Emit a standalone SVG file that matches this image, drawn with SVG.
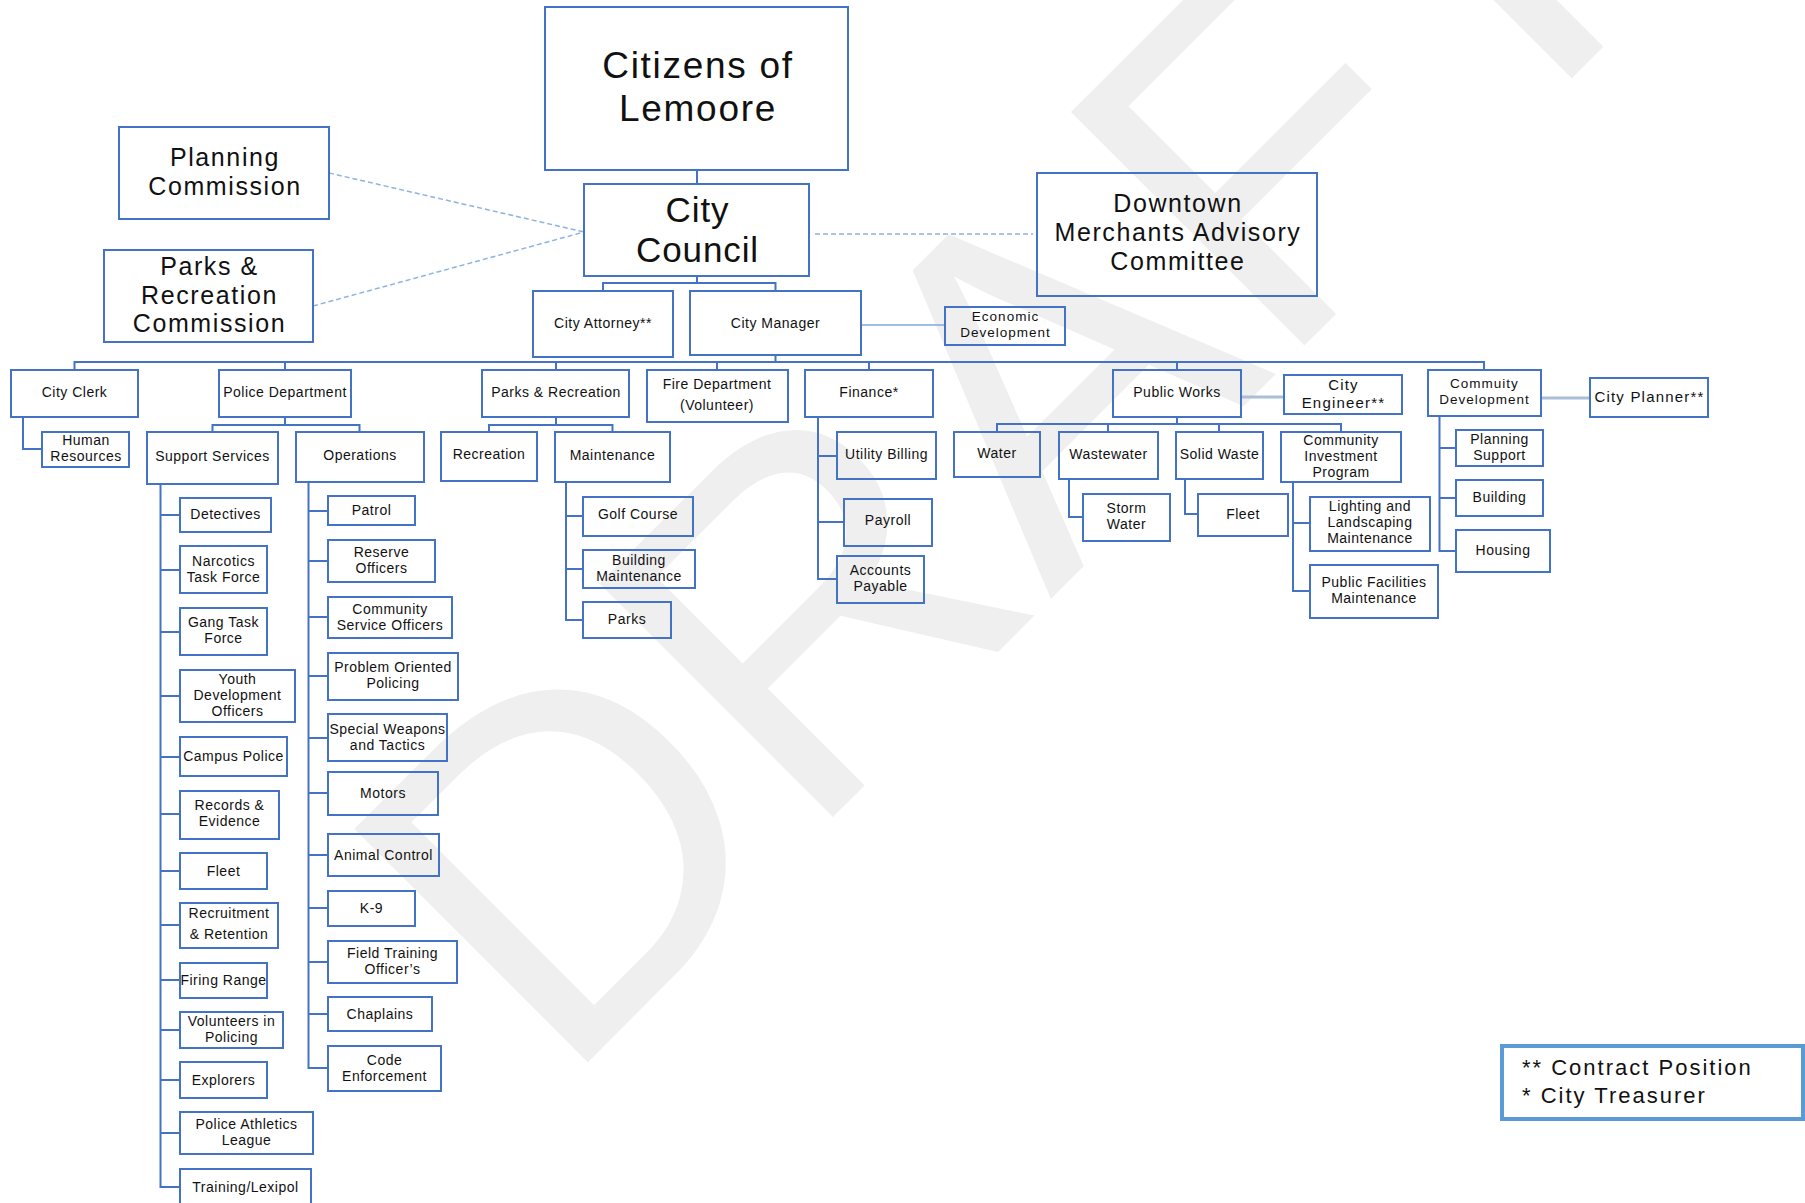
<svg xmlns="http://www.w3.org/2000/svg" width="1805" height="1203" viewBox="0 0 1805 1203">
<style>
.b{fill:none;stroke:#4472c4;stroke-width:2}
.t{font-family:"Liberation Sans",Arial,sans-serif;font-size:14px;letter-spacing:0.5px;fill:#111;text-anchor:middle}
.L{font-size:37px;letter-spacing:1.7px}.C{font-size:35px;letter-spacing:0.9px}.M{font-size:25px;letter-spacing:1.6px}.m{font-size:15px;letter-spacing:1.2px}.s{font-size:13.5px;letter-spacing:1px}
.c{fill:none;stroke:#4472c4;stroke-width:2}
.d{fill:none;stroke:#8db3e2;stroke-width:1.5;stroke-dasharray:5 3}
.wm{font-family:"Liberation Sans",sans-serif;font-size:480px;fill:#efefef}
</style>
<rect width="1805" height="1203" fill="#fff"/>
<text class="wm" transform="translate(560,1090) rotate(-45)">DRAFT</text>
<g id="connectors">
<path class="c" d="M697,170V184M697,276V283M603,291V283H775.5V291M775.5,355V362M74.5,370V362H1484V370M285,362V370M556,362V370M717,362V370M869,362V370M1177,362V370"/>
<path class="c" d="M23,417V449H42M285,417V425M212.5,432V425H359.5V432"/>
<path class="c" d="M160.5,484V1187H180M160.5,515H180M160.5,570H180M160.5,632H180M160.5,696H180M160.5,757H180M160.5,814H180M160.5,871H180M160.5,925H180M160.5,980H180M160.5,1030H180M160.5,1080H180M160.5,1133H180"/>
<path class="c" d="M308.5,482V1068H328M308.5,511H328M308.5,561H328M308.5,617H328M308.5,676H328M308.5,738H328M308.5,793H328M308.5,855H328M308.5,908H328M308.5,962H328M308.5,1014H328"/>
<path class="c" d="M556,417V425M489,432V425H612.5V432M566,482V620H583M566,516H583M566,569H583"/>
<path class="c" d="M818,417V579H837M818,456H837M818,522H844"/>
<path class="c" d="M1177,417V424M997,432V424H1341V432M1108,424V432M1219,424V432M1069,479V517H1083M1185,479V514H1198M1293,482V591H1310M1293,523H1310"/>
<path class="c" d="M1439.5,416V551H1456M1439.5,448H1456M1439.5,498H1456"/>
<path d="M861,325H945" fill="none" stroke="#7fa7dc" stroke-width="1.3"/>
<path d="M1241,397H1284M1541,398H1590" fill="none" stroke="#a9bfd6" stroke-width="3"/>
<path class="d" d="M329,173L584,232M313,306L584,232M815,234H1033"/>
</g>
<g id="citizens"><rect class="b" x="545" y="7" width="303" height="163"/><text class="t L" x="698" y="78">Citizens of</text><text class="t L" x="698" y="121">Lemoore</text></g>
<g id="council"><rect class="b" x="584" y="184" width="225" height="92"/><text class="t C" x="697.5" y="222">City</text><text class="t C" x="697.5" y="262">Council</text></g>
<g id="planning"><rect class="b" x="119" y="127" width="210" height="92"/><text class="t M" x="225" y="166">Planning</text><text class="t M" x="225" y="195">Commission</text></g>
<g id="prc"><rect class="b" x="104" y="250" width="209" height="92"/><text class="t M" x="209.5" y="275">Parks &amp;</text><text class="t M" x="209.5" y="303.5">Recreation</text><text class="t M" x="209.5" y="332">Commission</text></g>
<g id="downtown"><rect class="b" x="1037" y="173" width="280" height="123"/><text class="t M" x="1178" y="212">Downtown</text><text class="t M" x="1178" y="241">Merchants Advisory</text><text class="t M" x="1178" y="270">Committee</text></g>
<g id="attorney"><rect class="b" x="533" y="291" width="140" height="66"/><text class="t" x="603" y="328">City Attorney**</text></g>
<g id="manager"><rect class="b" x="690" y="291" width="171" height="64"/><text class="t" x="775.5" y="328">City Manager</text></g>
<g id="econ"><rect class="b" x="945" y="307" width="120" height="38"/><text class="t s" x="1005.5" y="321">Economic</text><text class="t s" x="1005.5" y="336.5">Development</text></g>
<g id="clerk"><rect class="b" x="11" y="370" width="127" height="47"/><text class="t" x="74.5" y="397">City Clerk</text></g>
<g id="police"><rect class="b" x="219" y="370" width="132" height="47"/><text class="t" x="285" y="397">Police Department</text></g>
<g id="parksrec"><rect class="b" x="482" y="370" width="147" height="47"/><text class="t" x="556" y="397">Parks &amp; Recreation</text></g>
<g id="fire"><rect class="b" x="647" y="370" width="141" height="52"/><text class="t" x="717" y="389">Fire Department</text><text class="t" x="717" y="410">(Volunteer)</text></g>
<g id="finance"><rect class="b" x="805" y="370" width="128" height="47"/><text class="t" x="869" y="397">Finance*</text></g>
<g id="publicworks"><rect class="b" x="1113" y="370" width="128" height="47"/><text class="t" x="1177" y="397">Public Works</text></g>
<g id="engineer"><rect class="b" x="1284" y="375" width="118" height="39"/><text class="t m" x="1343.5" y="390">City</text><text class="t m" x="1343.5" y="407.5">Engineer**</text></g>
<g id="comdev"><rect class="b" x="1428" y="370" width="113" height="46"/><text class="t s" x="1484.5" y="388">Commuity</text><text class="t s" x="1484.5" y="403.5">Development</text></g>
<g id="planner"><rect class="b" x="1590" y="378" width="118" height="39"/><text class="t m" x="1649.5" y="402">City Planner**</text></g>
<g id="hr"><rect class="b" x="42" y="432" width="87" height="35"/><text class="t" x="86" y="445">Human</text><text class="t" x="86" y="461">Resources</text></g>
<g id="support"><rect class="b" x="147" y="432" width="131" height="52"/><text class="t" x="212.5" y="461">Support Services</text></g>
<g id="operations"><rect class="b" x="296" y="432" width="128" height="50"/><text class="t" x="360" y="460">Operations</text></g>
<g id="recreation"><rect class="b" x="441" y="432" width="96" height="49"/><text class="t" x="489" y="459">Recreation</text></g>
<g id="maintenance"><rect class="b" x="555" y="432" width="115" height="50"/><text class="t" x="612.5" y="460">Maintenance</text></g>
<g id="utility"><rect class="b" x="837" y="432" width="99" height="47"/><text class="t" x="886.5" y="459">Utility Billing</text></g>
<g id="payroll"><rect class="b" x="844" y="499" width="88" height="47"/><text class="t" x="888" y="525">Payroll</text></g>
<g id="payable"><rect class="b" x="837" y="556" width="87" height="47"/><text class="t" x="880.5" y="575">Accounts</text><text class="t" x="880.5" y="591">Payable</text></g>
<g id="golf"><rect class="b" x="583" y="497" width="110" height="39"/><text class="t" x="638" y="519">Golf Course</text></g>
<g id="bldgmaint"><rect class="b" x="583" y="550" width="112" height="38"/><text class="t" x="639" y="564.5">Building</text><text class="t" x="639" y="580.5">Maintenance</text></g>
<g id="parks"><rect class="b" x="583" y="602" width="88" height="36"/><text class="t" x="627" y="624">Parks</text></g>
<g id="water"><rect class="b" x="954" y="432" width="86" height="45"/><text class="t" x="997" y="458">Water</text></g>
<g id="wastewater"><rect class="b" x="1059" y="432" width="99" height="47"/><text class="t" x="1108.5" y="459">Wastewater</text></g>
<g id="solidwaste"><rect class="b" x="1176" y="432" width="87" height="47"/><text class="t" x="1219.5" y="459">Solid Waste</text></g>
<g id="cip"><rect class="b" x="1281" y="432" width="120" height="50"/><text class="t" x="1341" y="444.5">Community</text><text class="t" x="1341" y="460.5">Investment</text><text class="t" x="1341" y="476.5">Program</text></g>
<g id="storm"><rect class="b" x="1083" y="494" width="87" height="47"/><text class="t" x="1126.5" y="513">Storm</text><text class="t" x="1126.5" y="529">Water</text></g>
<g id="pwfleet"><rect class="b" x="1198" y="494" width="90" height="42"/><text class="t" x="1243" y="519">Fleet</text></g>
<g id="llm"><rect class="b" x="1310" y="497" width="120" height="54"/><text class="t" x="1370" y="511">Lighting and</text><text class="t" x="1370" y="527">Landscaping</text><text class="t" x="1370" y="543">Maintenance</text></g>
<g id="pfm"><rect class="b" x="1310" y="565" width="128" height="53"/><text class="t" x="1374" y="587">Public Facilities</text><text class="t" x="1374" y="603">Maintenance</text></g>
<g id="plansupport"><rect class="b" x="1456" y="430" width="87" height="36"/><text class="t" x="1499.5" y="444">Planning</text><text class="t" x="1499.5" y="460">Support</text></g>
<g id="building"><rect class="b" x="1456" y="480" width="87" height="36"/><text class="t" x="1499.5" y="502">Building</text></g>
<g id="housing"><rect class="b" x="1456" y="530" width="94" height="42"/><text class="t" x="1503" y="555">Housing</text></g>
<g id="detectives"><rect class="b" x="180" y="498" width="91" height="34"/><text class="t" x="225.5" y="519">Detectives</text></g>
<g id="narcotics"><rect class="b" x="180" y="546" width="87" height="47"/><text class="t" x="223.5" y="566">Narcotics</text><text class="t" x="223.5" y="582">Task Force</text></g>
<g id="gang"><rect class="b" x="180" y="608" width="87" height="47"/><text class="t" x="223.5" y="627">Gang Task</text><text class="t" x="223.5" y="643">Force</text></g>
<g id="youth"><rect class="b" x="180" y="670" width="115" height="52"/><text class="t" x="237.5" y="684">Youth</text><text class="t" x="237.5" y="700">Development</text><text class="t" x="237.5" y="716">Officers</text></g>
<g id="campus"><rect class="b" x="180" y="737" width="107" height="39"/><text class="t" x="233.5" y="761">Campus Police</text></g>
<g id="records"><rect class="b" x="180" y="791" width="99" height="48"/><text class="t" x="229.5" y="810">Records &amp;</text><text class="t" x="229.5" y="826">Evidence</text></g>
<g id="fleet"><rect class="b" x="180" y="853" width="87" height="36"/><text class="t" x="223.5" y="876">Fleet</text></g>
<g id="recruit"><rect class="b" x="180" y="903" width="98" height="45"/><text class="t" x="229" y="918">Recruitment</text><text class="t" x="229" y="939">&amp; Retention</text></g>
<g id="firing"><rect class="b" x="180" y="963" width="87" height="35"/><text class="t" x="223.5" y="985">Firing Range</text></g>
<g id="volunteers"><rect class="b" x="180" y="1012" width="103" height="36"/><text class="t" x="231.5" y="1026">Volunteers in</text><text class="t" x="231.5" y="1042">Policing</text></g>
<g id="explorers"><rect class="b" x="180" y="1062" width="87" height="36"/><text class="t" x="223.5" y="1085">Explorers</text></g>
<g id="pal"><rect class="b" x="180" y="1112" width="133" height="42"/><text class="t" x="246.5" y="1129">Police Athletics</text><text class="t" x="246.5" y="1145">League</text></g>
<g id="training"><rect class="b" x="180" y="1169" width="131" height="45"/><text class="t" x="245.5" y="1192">Training/Lexipol</text></g>
<g id="patrol"><rect class="b" x="328" y="496" width="87" height="29"/><text class="t" x="371.5" y="515">Patrol</text></g>
<g id="reserve"><rect class="b" x="328" y="540" width="107" height="42"/><text class="t" x="381.5" y="557">Reserve</text><text class="t" x="381.5" y="573">Officers</text></g>
<g id="cso"><rect class="b" x="328" y="597" width="124" height="41"/><text class="t" x="390" y="614">Community</text><text class="t" x="390" y="630">Service Officers</text></g>
<g id="pop"><rect class="b" x="328" y="653" width="130" height="47"/><text class="t" x="393" y="672">Problem Oriented</text><text class="t" x="393" y="688">Policing</text></g>
<g id="swat"><rect class="b" x="328" y="714" width="119" height="47"/><text class="t" x="387.5" y="734">Special Weapons</text><text class="t" x="387.5" y="750">and Tactics</text></g>
<g id="motors"><rect class="b" x="328" y="772" width="110" height="43"/><text class="t" x="383" y="798">Motors</text></g>
<g id="animal"><rect class="b" x="328" y="834" width="111" height="42"/><text class="t" x="383.5" y="860">Animal Control</text></g>
<g id="k9"><rect class="b" x="328" y="891" width="87" height="35"/><text class="t" x="371.5" y="913">K-9</text></g>
<g id="fto"><rect class="b" x="328" y="941" width="129" height="42"/><text class="t" x="392.5" y="958">Field Training</text><text class="t" x="392.5" y="974">Officer’s</text></g>
<g id="chaplains"><rect class="b" x="328" y="997" width="104" height="34"/><text class="t" x="380" y="1019">Chaplains</text></g>
<g id="code"><rect class="b" x="328" y="1046" width="113" height="45"/><text class="t" x="384.5" y="1065">Code</text><text class="t" x="384.5" y="1081">Enforcement</text></g>
<g id="legend"><rect x="1502" y="1046" width="301" height="73" fill="#fff" stroke="#5b9bd5" stroke-width="4"/><text class="t" style="font-size:22px;letter-spacing:2px;text-anchor:start" x="1522" y="1075">** Contract Position</text><text class="t" style="font-size:22px;letter-spacing:2px;text-anchor:start" x="1522" y="1103">* City Treasurer</text></g>
</svg>
